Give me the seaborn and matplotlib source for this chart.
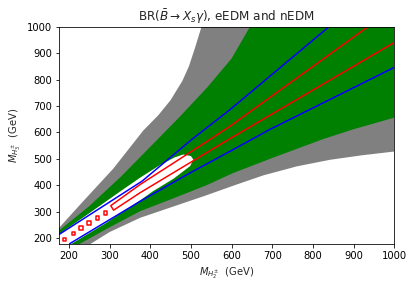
import matplotlib
matplotlib.use("Agg")
import matplotlib.pyplot as plt
import pandas as pd
import seaborn as sns

# allowed regions, boundaries (x, y in GeV)
gray_upper_x = [176, 236, 309, 383, 420, 450, 479, 495, 510, 526]
gray_upper_y = [238, 340, 462, 607, 665, 722, 795, 850, 920, 1000]
gray_lower_x = [998, 920, 842, 760, 678, 610, 539, 457, 375, 300, 252]
gray_lower_y = [527, 513, 496, 471, 437, 401, 362, 319, 276, 222, 176]

green_upper_x = [176, 250, 330, 400, 470, 540, 600, 645]
green_upper_y = [228, 320, 435, 545, 655, 770, 880, 1000]
green_lower_x = [998, 900, 826, 700, 604, 539, 457, 375, 300, 225]
green_lower_y = [655, 612, 575, 503, 446, 400, 350, 301, 240, 176]

white_x = [176, 205, 290, 375, 407, 457, 498, 506, 500, 481, 460, 424, 375, 330, 247, 176]
white_y = [176, 176, 255, 342, 377, 424, 472, 497, 510, 516, 505, 476, 428, 380, 290, 214]

# blue contours
blue1_x = [176, 380, 502, 596, 839]
blue1_y = [213, 415, 573, 686, 1000]
blue2_x = [202, 380, 500, 596, 694, 998]
blue2_y = [178, 343, 448, 528, 611, 845]

# red contour (long loop) and small red islands
red_x = [1060, 998, 596, 375, 310, 303, 375, 547, 596, 935, 990]
red_y = [990, 939, 576, 371, 305, 322, 402, 573, 623, 1000, 1060]
island_x = [190, 211, 230, 250, 270, 290]
island_y = [194, 216, 238, 257, 276, 295]

xmin, xmax = 176, 1000
ymin, ymax = 176, 1000

sns.set_style("ticks")
fig = plt.figure(figsize=(413 / 72, 288 / 72), dpi=72)
ax = fig.add_axes([0.143, 0.152, 0.812, 0.755])

# gray band
gx = gray_upper_x + [xmax, xmax] + gray_lower_x + [xmin]
gy = gray_upper_y + [ymax, gray_lower_y[0]] + gray_lower_y + [ymin]
ax.fill(gx, gy, color="gray", lw=0)

# green band
hx = green_upper_x + [xmax, xmax] + green_lower_x + [xmin]
hy = green_upper_y + [ymax, green_lower_y[0]] + green_lower_y + [ymin]
ax.fill(hx, hy, color="green", lw=0)

# inner white region
ax.fill(white_x, white_y, color="white", lw=0)

blue1 = pd.DataFrame({"x": blue1_x, "y": blue1_y})
blue2 = pd.DataFrame({"x": blue2_x, "y": blue2_y})
red = pd.DataFrame({"x": red_x, "y": red_y})
sns.lineplot(data=blue1, x="x", y="y", sort=False, estimator=None, color="blue", lw=1.5, ax=ax)
sns.lineplot(data=blue2, x="x", y="y", sort=False, estimator=None, color="blue", lw=1.5, ax=ax)
sns.lineplot(data=red, x="x", y="y", sort=False, estimator=None, color="red", lw=1.5, ax=ax)
ax.scatter(island_x, island_y, marker="s", s=12, facecolors="none", edgecolors="red", linewidths=1.5, zorder=3)

ax.set_xlim(xmin, xmax)
ax.set_ylim(ymin, ymax)
ax.set_xticks(range(200, 1001, 100))
ax.set_yticks(range(200, 1001, 100))
ax.tick_params(labelsize=10, colors="black")
for s in ax.spines.values():
    s.set_color("black")
ax.set_xlabel(r"$M_{H_2^{\pm}}$  (GeV)", fontsize=10)
ax.set_ylabel(r"$M_{H_3^{\pm}}$  (GeV)", fontsize=10)
ax.set_title(r"BR($\bar{B}\to X_s\gamma$), eEDM and nEDM", fontsize=12)

fig.savefig("out.png", dpi=72)
